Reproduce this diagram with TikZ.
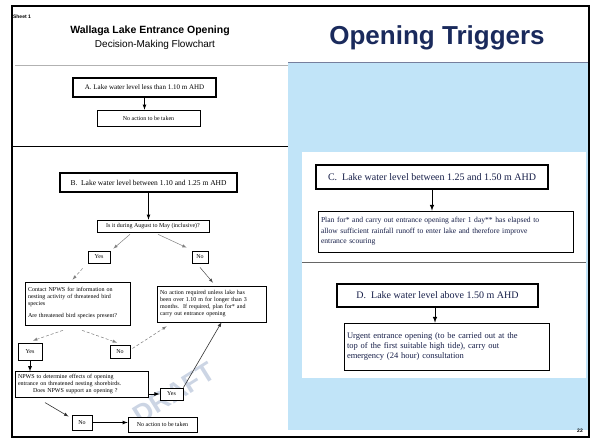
\documentclass[tikz,border=0pt]{standalone}
\usepackage{fontspec}
\setmainfont{Liberation Serif}
\setsansfont{Liberation Sans}
\definecolor{panelblue}{RGB}{193,228,248}
\definecolor{inkblue}{RGB}{22,30,72}
\definecolor{navy}{RGB}{26,42,92}
\definecolor{draftgray}{RGB}{204,213,228}

\begin{document}
\begin{tikzpicture}[x=1pt,y=-1pt,>=latex,
  box/.style={draw,fill=white,inner sep=2pt,font=\fontsize{6}{7}\selectfont},
  bigbox/.style={box,line width=1.5pt},
  yn/.style={box,line width=0.8pt,inner sep=0pt},
  para/.style={box,inner sep=3pt,align=left,line width=0.6pt},
  flow/.style={->,line width=0.8pt},
  faint/.style={->,gray,line width=0.5pt},
  faintdash/.style={faint,densely dashed}]
\useasboundingbox (0,0) rectangle (593,441);

\fill[panelblue] (288,62) rectangle (588,430);
\draw[navy!60,line width=0.6pt] (288,62) -- (588,62);
\fill[white] (302,152) rectangle (586,378);
\draw[gray!80!black,line width=0.6pt] (302,262) -- (586,262);

\draw[line width=1.6pt] (12,6) rectangle (589,437);
\draw[gray!60,line width=1pt] (15,66) -- (288,66);
\draw[line width=0.8pt] (12,146) -- (288,146);

\node[font=\sffamily\bfseries\fontsize{5}{6}\selectfont] (sheet) at (22,17) {Sheet 1};
\node[font=\sffamily\bfseries\fontsize{10.5}{12}\selectfont] (title) at (150,31) {Wallaga Lake Entrance Opening};
\node[font=\sffamily\fontsize{10}{12}\selectfont] (subtitle) at (155,45) {Decision-Making Flowchart};
\node[font=\sffamily\bfseries\fontsize{26}{30}\selectfont,text=navy] (triggers) at (437,38) {Opening Triggers};

\node[font=\sffamily\bfseries\fontsize{27}{30}\selectfont,text=draftgray,rotate=32] (draft) at (174,393) {DRAFT};

\node[bigbox,font=\fontsize{7}{8}\selectfont,minimum width=143pt,minimum height=19pt] (lvlA) at (144.5,87.5) {A. Lake water level less than 1.10 m AHD};
\node[box,line width=0.6pt,minimum width=103pt,minimum height=16pt] (noactA) at (148.5,118) {No action to be taken};
\draw[flow] (lvlA.south) -- (lvlA.south |- noactA.north);

\node[bigbox,font=\fontsize{7.5}{8.5}\selectfont,minimum width=177pt,minimum height=19pt] (lvlB) at (148.5,182.5) {B.\ \ Lake water level between 1.10 and 1.25 m AHD};
\node[box,line width=0.6pt,inner sep=0pt,minimum width=112pt,minimum height=12pt] (season) at (153,226) {Is it during August to May (inclusive)?};
\draw[flow] (lvlB.south) -- (lvlB.south |- season.north);

\node[yn,minimum width=22pt,minimum height=12pt] (yesA) at (99,257) {Yes};
\node[yn,minimum width=16pt,minimum height=12pt] (noA) at (200,257) {No};
\draw[faint] ([xshift=-23pt,yshift=-2pt]season.south) -- ([xshift=3pt,yshift=2pt]yesA.north east);
\draw[faint] ([xshift=5pt,yshift=-2pt]season.south) -- ([xshift=-5pt,yshift=3pt]noA.north west);

\node[para,text width=99pt,minimum height=43pt] (contact) at (77.5,303.5) {Contact NPWS for information on\\ nesting activity of threatened bird\\ species\\[5pt] Are threatened bird species present?};
\node[para,text width=103pt,minimum height=36pt] (noreq) at (211.5,304) {No action required unless lake has\\ been over 1.10 m for longer than 3\\ months.\ \ If required, plan for* and\\ carry out entrance opening};
\draw[faintdash] ([xshift=-5pt,yshift=-5pt]yesA.south west) -- ([xshift=-5pt,yshift=2pt]contact.north);
\draw[faint,black!70] ([yshift=-4pt]noA.south) -- ([xshift=1.5pt,yshift=3pt]noreq.north);

\node[yn,minimum width=24pt,minimum height=17pt] (yesB) at (30,351.5) {Yes};
\node[yn,minimum width=20pt,minimum height=13pt] (noB) at (120,351.5) {No};
\draw[faintdash] ([xshift=-14.5pt,yshift=-5pt]contact.south) -- ([xshift=3pt,yshift=2pt]yesB.north);
\draw[faintdash] ([xshift=4.5pt,yshift=-5pt]contact.south) -- ([xshift=-3pt,yshift=2pt]noB.north);
\draw[faintdash] ([xshift=2pt,yshift=3pt]noB.east) -- ([xshift=10pt,yshift=-4pt]noreq.south west);

\node[box,inner sep=3pt,align=left,line width=0.6pt,text width=127pt,minimum height=25pt] (npws) at (81.5,384.5) {NPWS to determine effects of opening\\ entrance on threatened nesting shorebirds.\\ \hspace*{15pt}Does NPWS support an opening ?};
\draw[flow] (yesB.south) -- (yesB.south |- npws.north);

\node[yn,minimum width=23pt,minimum height=12pt] (yesC) at (171.5,394) {Yes};
\draw[flow] (npws.east |- yesC) -- (yesC.west);
\draw[->,black!80,line width=0.6pt] (yesC.north east) -- ([xshift=10pt]noreq.south);

\node[yn,minimum width=20pt,minimum height=15pt] (noC) at (82,422.5) {No};
\node[box,line width=0.6pt,inner sep=0pt,minimum width=69pt,minimum height=15pt] (noactB) at (162.5,424.5) {No action to be taken};
\draw[->,black!80,line width=0.6pt] ([xshift=-36.5pt,yshift=-5pt]npws.south) -- ([xshift=-3pt,yshift=6pt]noC.west);
\draw[flow] (noC.east) -- (noC.east -| noactB.west);

\node[bigbox,line width=2pt,text=inkblue,font=\fontsize{10}{12}\selectfont,minimum width=232pt,minimum height=24pt] (lvlC) at (432,177) {C.\ \ Lake water level between 1.25 and 1.50 m AHD};
\node[para,text=inkblue,font=\fontsize{7.6}{10.4}\selectfont,text width=249pt,minimum height=41pt] (plan) at (445.5,231.5) {Plan for* and carry out entrance opening after 1 day** has elapsed to\\ allow sufficient rainfall runoff to enter lake and therefore improve\\ entrance scouring};
\draw[flow,line width=1pt] (lvlC.south) -- (lvlC.south |- plan.north);

\node[bigbox,line width=2pt,text=inkblue,font=\fontsize{10}{12}\selectfont,minimum width=201pt,minimum height=23pt] (lvlD) at (437.5,295.5) {D.\ \ Lake water level above 1.50 m AHD};
\node[para,text=inkblue,font=\fontsize{8.5}{10}\selectfont,text width=199pt,minimum height=47pt] (urgent) at (446.5,346.5) {Urgent entrance opening (to be carried out at the\\ top of the first suitable high tide), carry out\\ emergency (24 hour) consultation};
\draw[flow,line width=1pt] ([xshift=-2.5pt]lvlD.south) -- ([xshift=-2.5pt]lvlD.south |- urgent.north);

\node[font=\sffamily\bfseries\fontsize{5}{6}\selectfont] (page) at (580,431) {22};

\end{tikzpicture}
\end{document}
